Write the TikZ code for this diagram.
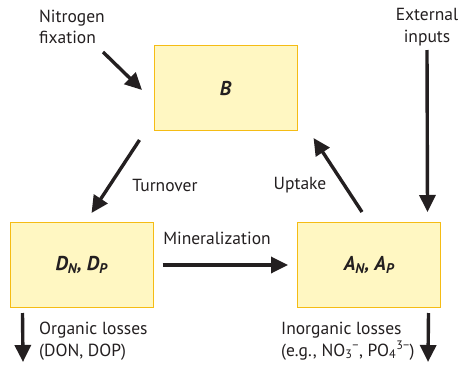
\documentclass[tikz,border=0pt]{standalone}
\usepackage{fontspec}
\setmainfont{PT Sans}
\usetikzlibrary{arrows.meta}
\definecolor{poolfill}{RGB}{255,247,194}
\definecolor{poolline}{RGB}{245,188,20}
\definecolor{ink}{RGB}{35,31,32}

\begin{document}
\begin{tikzpicture}[x=1pt, y=-1pt,
  pool/.style={draw=poolline, fill=poolfill, line width=1pt, minimum width=143pt,
    minimum height=85pt, inner sep=0pt, text=ink,
    font=\bfseries\itshape\fontsize{20}{22}\selectfont},
  flow/.style={draw=ink, line width=3.4pt, -{Triangle[length=17pt,width=16pt]}},
  lbl/.style={text=ink, inner sep=0pt, align=left, font=\fontsize{17.5}{21.5}\selectfont}]

  \useasboundingbox (0,0) rectangle (460,367);

  % pools
  \node[pool] (B) at (225.5,88) {B};
  \node[pool] (D) at (81.5,265) {D\textsubscript{N}, D\textsubscript{P}};
  \node[pool] (A) at (369,265) {A\textsubscript{N}, A\textsubscript{P}};

  % free ends
  \coordinate (fixtail) at (103,52);
  \coordinate (fixtip) at (142,90);
  \coordinate (exttail) at (427,50);
  \coordinate (orgtip) at (23,362);
  \coordinate (inorgtip) at (428,362);

  % flows
  \draw[flow] (fixtail) -- (fixtip);
  \draw[flow] ([xshift=-14pt,yshift=-9pt]B.south west) -- ([xshift=82pt,yshift=9pt]D.north west);
  \draw[flow] ([xshift=-7pt,yshift=10pt]A.north) -- ([xshift=16pt,yshift=-7pt]B.south east);
  \draw[flow] (exttail) -- ([xshift=-13.5pt,yshift=10pt]A.north east);
  \draw[flow, shorten <=9pt, shorten >=9pt] (D.east) -- (A.west);
  \draw[flow] ([xshift=13pt,yshift=-5pt]D.south west) -- (orgtip);
  \draw[flow] ([xshift=-12.5pt,yshift=-5pt]A.south east) -- (inorgtip);

  % labels
  \node[lbl, anchor=west] (fixlbl) at (39,27) {Nitrogen\\fixation};
  \node[lbl, anchor=center, align=center] (extlbl) at (427,27) {External\\inputs};
  \node[lbl, anchor=center] (turnlbl) at (165,185) {Turnover};
  \node[lbl, anchor=center] (uplbl) at (300,185) {Uptake};
  \node[lbl, anchor=center] (minlbl) at (217,238) {Mineralization};
  \node[lbl, anchor=west] (orglbl) at (39,341) {Organic losses\\(DON, DOP)};
  \node[lbl, anchor=west] (inorglbl) at (281,341)
    {Inorganic losses\\(e.g., NO\textsubscript{3}\textsuperscript{−}, PO\textsubscript{4}\textsuperscript{3−})};

\end{tikzpicture}
\end{document}
